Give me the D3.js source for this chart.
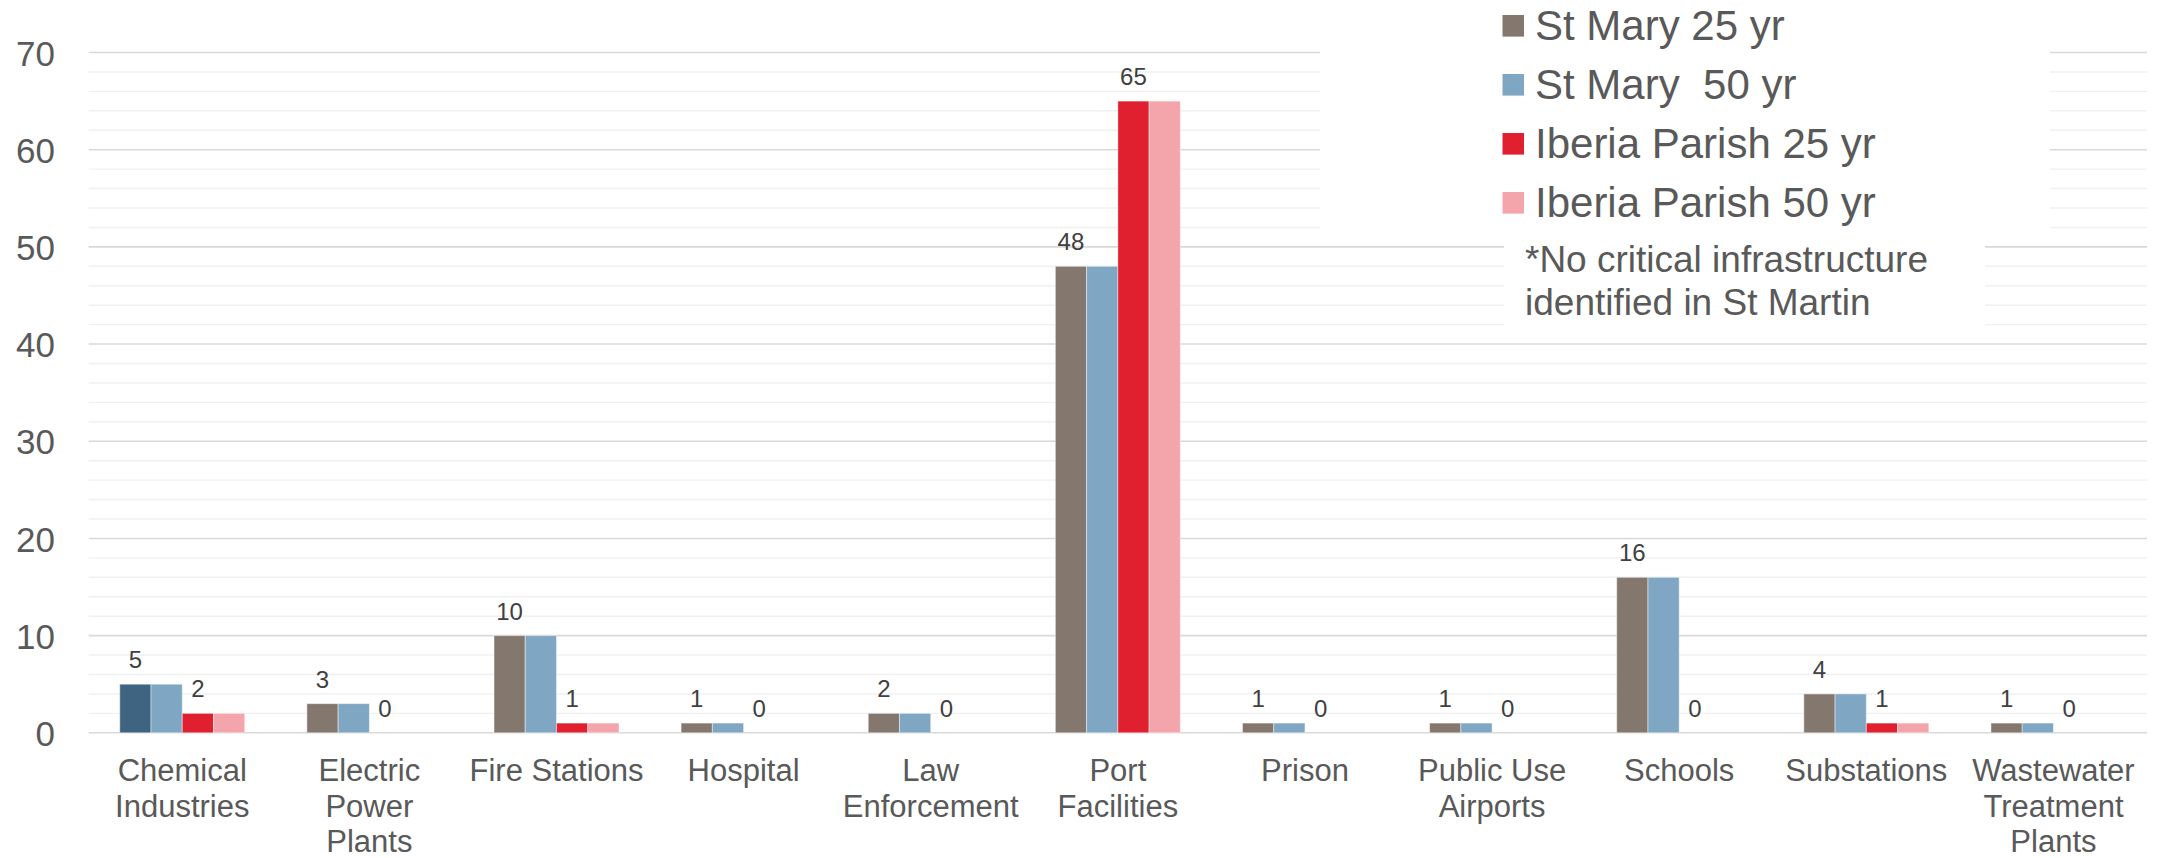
<!DOCTYPE html>
<html>
<head>
<meta charset="utf-8">
<script src="https://cdn.jsdelivr.net/npm/d3@7"></script>
<style>
  html, body { margin: 0; padding: 0; background: #ffffff; }
  svg { display: block; }
  text { font-family: "Liberation Sans", Arial, sans-serif; }
</style>
</head>
<body>
<svg id="chart" width="2167" height="858"></svg>
<script>
const categories = ["Chemical Industries", "Electric Power Plants", "Fire Stations", "Hospital",
  "Law Enforcement", "Port Facilities", "Prison", "Public Use Airports", "Schools",
  "Substations", "Wastewater Treatment Plants"];
const categoryLabelLines = [["Chemical", "Industries"], ["Electric", "Power", "Plants"], ["Fire Stations"],
  ["Hospital"], ["Law", "Enforcement"], ["Port", "Facilities"], ["Prison"], ["Public Use", "Airports"],
  ["Schools"], ["Substations"], ["Wastewater", "Treatment", "Plants"]];
const seriesNames = ["St Mary 25 yr", "St Mary  50 yr", "Iberia Parish 25 yr", "Iberia Parish 50 yr"];
const stMary25 = [5, 3, 10, 1, 2, 48, 1, 1, 16, 4, 1];
const stMary50 = [5, 3, 10, 1, 2, 48, 1, 1, 16, 4, 1];
const iberia25 = [2, 0, 1, 0, 0, 65, 0, 0, 0, 1, 0];
const iberia50 = [2, 0, 1, 0, 0, 65, 0, 0, 0, 1, 0];
const seriesValues = [stMary25, stMary50, iberia25, iberia50];
const seriesColors = ["#84786e", "#7fa6c2", "#e01f2f", "#f4a5ac"];
const labeledSeries = [0, 2];
const highlightColor = "#3e6481"; // first point of St Mary 25 yr
const yTicks = [0, 10, 20, 30, 40, 50, 60, 70];
const footnoteLines = ["*No critical infrastructure", "identified in St Martin"];

const svg = d3.select("#chart");
const plotLeft = 88.7, plotRight = 2147, plotTop = 52.5, plotBottom = 732.8;

const x0 = d3.scaleBand().domain(categories).range([plotLeft, plotRight]).padding(0);
const step = x0.bandwidth();
const groupW = 125;
const x1 = d3.scaleBand().domain(d3.range(seriesNames.length))
  .range([(step - groupW) / 2, (step + groupW) / 2]).padding(0);
const y = d3.scaleLinear().domain([0, 70]).range([plotBottom, plotTop]);

// gridlines
const minorTicks = d3.range(0, 71, 2);
svg.append("g").selectAll("line").data(minorTicks).join("line")
  .attr("x1", plotLeft).attr("x2", plotRight)
  .attr("y1", d => y(d)).attr("y2", d => y(d))
  .attr("stroke", d => d % 10 === 0 ? "#d9d9d9" : "#f0f0f0")
  .attr("stroke-width", d => d % 10 === 0 ? 1.6 : 1.4);

// y axis labels
const yAxis = d3.axisLeft(y).tickValues(yTicks).tickSize(0).tickPadding(0);
const yg = svg.append("g").attr("transform", "translate(55,0)").call(yAxis);
yg.select(".domain").remove();
yg.selectAll("text").attr("font-size", 35).attr("fill", "#595959")
  .attr("font-family", "Liberation Sans, Arial, sans-serif").attr("dy", "0.36em");

// legend background boxes (cover gridlines)
svg.append("rect").attr("x", 1320).attr("y", 0).attr("width", 730).attr("height", 237).attr("fill", "#fff");
svg.append("rect").attr("x", 1504).attr("y", 237).attr("width", 481).attr("height", 98).attr("fill", "#fff");

// bars
const groups = svg.append("g").selectAll("g").data(categories).join("g")
  .attr("transform", d => `translate(${x0(d)},0)`);
groups.selectAll("rect").data((c, ci) => seriesValues.map((vals, si) => ({ si, ci, v: vals[ci] })))
  .join("rect")
  .attr("x", d => x1(d.si))
  .attr("width", x1.bandwidth())
  .attr("y", d => y(d.v))
  .attr("height", d => y(0) - y(d.v))
  .attr("fill", d => (d.si === 0 && d.ci === 0) ? highlightColor : seriesColors[d.si])
  .attr("stroke", "rgba(255,255,255,0.45)").attr("stroke-width", 1);

// data labels
groups.selectAll("text.val").data((c, ci) => labeledSeries.map(si => ({ si, v: seriesValues[si][ci] })))
  .join("text").attr("class", "val")
  .attr("x", d => x1(d.si) + x1.bandwidth() / 2)
  .attr("y", d => y(d.v) - 16)
  .attr("text-anchor", "middle").attr("font-size", 24).attr("fill", "#404040")
  .text(d => d.v);

// category labels
const cl = svg.append("g").selectAll("text").data(categories).join("text")
  .attr("x", d => x0(d) + step / 2)
  .attr("y", 781)
  .attr("text-anchor", "middle").attr("font-size", 31).attr("fill", "#595959");
cl.selectAll("tspan").data((d, i) => categoryLabelLines[i]).join("tspan")
  .attr("x", function () { return d3.select(this.parentNode).attr("x"); })
  .attr("dy", (d, i) => i === 0 ? 0 : 35.5)
  .text(d => d);

// legend
const lg = svg.append("g");
seriesNames.forEach((name, i) => {
  const cy = 25.8 + i * 59;
  lg.append("rect").attr("x", 1502.5).attr("y", cy - 10.8).attr("width", 21.5).attr("height", 21.6)
    .attr("fill", seriesColors[i]);
  lg.append("text").attr("x", 1535).attr("y", cy + 14.5).attr("font-size", 42)
    .attr("fill", "#595959").style("white-space", "pre").text(name);
});

// footnote
svg.append("g").selectAll("text").data(footnoteLines).join("text")
  .attr("x", 1525).attr("y", (d, i) => 271.5 + i * 43.5)
  .attr("font-size", 37).attr("fill", "#595959").text(d => d);
</script>
</body>
</html>
